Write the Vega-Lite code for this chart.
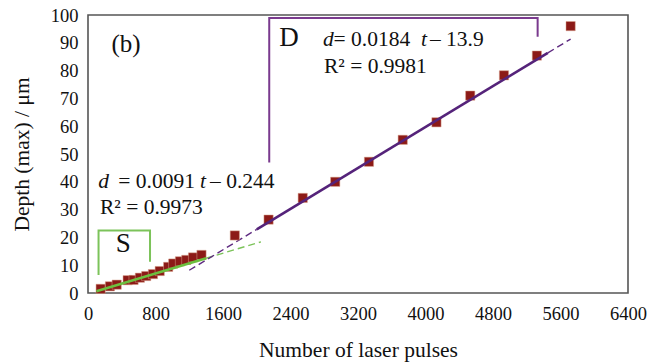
{
  "$schema": "https://vega.github.io/schema/vega-lite/v6.json",
  "width": 540,
  "height": 278,
  "autosize": {"type": "none"},
  "padding": {"left": 88, "top": 15, "right": 33, "bottom": 69},
  "background": "white",
  "config": {
    "view": {"stroke": "#555555", "strokeWidth": 1.6},
    "font": "Liberation Serif",
    "axis": {
      "labelFont": "Liberation Serif",
      "titleFont": "Liberation Serif",
      "labelColor": "#111111",
      "titleColor": "#111111",
      "labelFontSize": 18.5,
      "titleFontSize": 21.5,
      "titleFontWeight": "normal",
      "grid": false,
      "domain": false,
      "ticks": false
    }
  },
  "datasets": {
    "pts": [
      {"t": 150, "d": 1.5}, {"t": 260, "d": 2.4}, {"t": 340, "d": 3.0},
      {"t": 470, "d": 4.6}, {"t": 540, "d": 4.7}, {"t": 615, "d": 5.5},
      {"t": 690, "d": 6.1}, {"t": 770, "d": 6.8}, {"t": 850, "d": 7.9},
      {"t": 950, "d": 9.4}, {"t": 1010, "d": 10.6}, {"t": 1090, "d": 11.4},
      {"t": 1165, "d": 11.9}, {"t": 1245, "d": 12.8}, {"t": 1345, "d": 13.7},
      {"t": 1740, "d": 20.7}, {"t": 2140, "d": 26.4}, {"t": 2545, "d": 34.2},
      {"t": 2930, "d": 40.0}, {"t": 3330, "d": 47.2}, {"t": 3730, "d": 55.1},
      {"t": 4130, "d": 61.4}, {"t": 4530, "d": 71.0}, {"t": 4930, "d": 78.3},
      {"t": 5320, "d": 85.4}, {"t": 5720, "d": 96.0}
    ],
    "xticks": [
      {"t": 800}, {"t": 1600}, {"t": 2400}, {"t": 3200},
      {"t": 4000}, {"t": 4800}, {"t": 5600}
    ],
    "yticks": [
      {"d": 10}, {"d": 20}, {"d": 30}, {"d": 40},
      {"d": 50}, {"d": 60}, {"d": 70}, {"d": 80}, {"d": 90}
    ],
    "lines": [
      {"series": "S fit", "o": 1, "t": 100, "d": 0.666},
      {"series": "S fit", "o": 2, "t": 1400, "d": 12.496},
      {"series": "S ext", "o": 1, "t": 1400, "d": 12.496},
      {"series": "S ext", "o": 2, "t": 2050, "d": 18.411},
      {"series": "D fit", "o": 1, "t": 2000, "d": 22.9},
      {"series": "D fit", "o": 2, "t": 5450, "d": 86.38},
      {"series": "D ext lo", "o": 1, "t": 1200, "d": 8.18},
      {"series": "D ext lo", "o": 2, "t": 2000, "d": 22.9},
      {"series": "D ext hi", "o": 1, "t": 5450, "d": 86.38},
      {"series": "D ext hi", "o": 2, "t": 5720, "d": 91.35},
      {"series": "S bracket", "o": 1, "t": 125, "d": 6.5},
      {"series": "S bracket", "o": 2, "t": 125, "d": 22.5},
      {"series": "S bracket", "o": 3, "t": 735, "d": 22.5},
      {"series": "S bracket", "o": 4, "t": 735, "d": 11.2},
      {"series": "D bracket", "o": 1, "t": 2148, "d": 46.9},
      {"series": "D bracket", "o": 2, "t": 2148, "d": 98.9},
      {"series": "D bracket", "o": 3, "t": 5329, "d": 98.9},
      {"series": "D bracket", "o": 4, "t": 5329, "d": 92.2}
    ],
    "labels": [
      {"kind": "big", "text": "(b)", "t": 450, "d": 89.6},
      {"kind": "huge", "text": "D", "t": 2382, "d": 91.6},
      {"kind": "huge", "text": "S", "t": 419, "d": 17.8},
      {"kind": "ital", "text": "d", "t": 2785, "d": 91.1},
      {"kind": "norm", "text": "= 0.0184", "t": 2910, "d": 91.1},
      {"kind": "ital", "text": "t", "t": 3946, "d": 91.1},
      {"kind": "norm", "text": "– 13.9", "t": 4053, "d": 91.1},
      {"kind": "norm", "text": "R² = 0.9981", "t": 2797, "d": 81.4},
      {"kind": "ital", "text": "d", "t": 122, "d": 40.1},
      {"kind": "norm", "text": "= 0.0091", "t": 359, "d": 40.1},
      {"kind": "ital", "text": "t", "t": 1327, "d": 40.1},
      {"kind": "norm", "text": "– 0.244", "t": 1446, "d": 40.1},
      {"kind": "norm", "text": "R² = 0.9973", "t": 142, "d": 30.6}
    ]
  },
  "encoding": {
    "x": {
      "field": "t", "type": "quantitative",
      "scale": {"domain": [0, 6400], "nice": false, "zero": false},
      "axis": {
        "title": "Number of laser pulses",
        "values": [0, 800, 1600, 2400, 3200, 4000, 4800, 5600, 6400],
        "format": "d",
        "labelPadding": 11,
        "titlePadding": 17,
        "labelFlush": false
      }
    },
    "y": {
      "field": "d", "type": "quantitative",
      "scale": {"domain": [0, 100], "nice": false},
      "axis": {
        "title": "Depth (max) / μm",
        "values": [0, 10, 20, 30, 40, 50, 60, 70, 80, 90, 100],
        "labelPadding": 10,
        "titlePadding": 17,
        "labelFlush": false
      }
    }
  },
  "layer": [
    {
      "data": {"name": "xticks"},
      "mark": {"type": "rule", "color": "#333333", "strokeWidth": 1.6},
      "encoding": {
        "x": {"field": "t", "type": "quantitative"},
        "y": {"datum": 0},
        "y2": {"datum": 2.5}
      }
    },
    {
      "data": {"name": "yticks"},
      "mark": {"type": "rule", "color": "#333333", "strokeWidth": 1.6},
      "encoding": {
        "y": {"field": "d", "type": "quantitative"},
        "x": {"datum": 0},
        "x2": {"datum": 80}
      }
    },
    {
      "data": {"name": "lines"},
      "transform": [{"filter": "datum.series === 'S bracket'"}],
      "mark": {"type": "line", "color": "#7cc35a", "strokeWidth": 2},
      "encoding": {"order": {"field": "o", "type": "quantitative"}}
    },
    {
      "data": {"name": "lines"},
      "transform": [{"filter": "datum.series === 'D bracket'"}],
      "mark": {"type": "line", "color": "#7a3a8e", "strokeWidth": 2},
      "encoding": {"order": {"field": "o", "type": "quantitative"}}
    },
    {
      "data": {"name": "lines"},
      "transform": [{"filter": "datum.series === 'S ext'"}],
      "mark": {"type": "line", "color": "#7cc35a", "strokeWidth": 1.4, "strokeDash": [7, 4]},
      "encoding": {"order": {"field": "o", "type": "quantitative"}}
    },
    {
      "data": {"name": "lines"},
      "transform": [{"filter": "datum.series === 'D ext lo' || datum.series === 'D ext hi'"}],
      "mark": {"type": "line", "color": "#5e2a80", "strokeWidth": 1.4, "strokeDash": [7, 4]},
      "encoding": {"detail": {"field": "series"}, "order": {"field": "o", "type": "quantitative"}}
    },
    {
      "data": {"name": "pts"},
      "mark": {"type": "square", "color": "#8c1a17", "opacity": 1, "size": 85, "stroke": "#d9a08a", "strokeWidth": 0.5}
    },
    {
      "data": {"name": "lines"},
      "transform": [{"filter": "datum.series === 'S fit'"}],
      "mark": {"type": "line", "color": "#6cbf3f", "strokeWidth": 2.6},
      "encoding": {"order": {"field": "o", "type": "quantitative"}}
    },
    {
      "data": {"name": "lines"},
      "transform": [{"filter": "datum.series === 'D fit'"}],
      "mark": {"type": "line", "color": "#55237a", "strokeWidth": 2.6},
      "encoding": {"order": {"field": "o", "type": "quantitative"}}
    },
    {
      "data": {"name": "labels"},
      "transform": [{"filter": "datum.kind === 'big'"}],
      "mark": {"type": "text", "font": "Liberation Serif", "fontSize": 25, "color": "#111111", "align": "center", "baseline": "middle"},
      "encoding": {"text": {"field": "text"}}
    },
    {
      "data": {"name": "labels"},
      "transform": [{"filter": "datum.kind === 'huge'"}],
      "mark": {"type": "text", "font": "Liberation Serif", "fontSize": 27, "color": "#111111", "align": "center", "baseline": "middle"},
      "encoding": {"text": {"field": "text"}}
    },
    {
      "data": {"name": "labels"},
      "transform": [{"filter": "datum.kind === 'norm'"}],
      "mark": {"type": "text", "font": "Liberation Serif", "fontSize": 21.5, "color": "#111111", "align": "left", "baseline": "middle"},
      "encoding": {"text": {"field": "text"}}
    },
    {
      "data": {"name": "labels"},
      "transform": [{"filter": "datum.kind === 'ital'"}],
      "mark": {"type": "text", "font": "Liberation Serif", "fontSize": 21.5, "fontStyle": "italic", "color": "#111111", "align": "left", "baseline": "middle"},
      "encoding": {"text": {"field": "text"}}
    }
  ]
}
